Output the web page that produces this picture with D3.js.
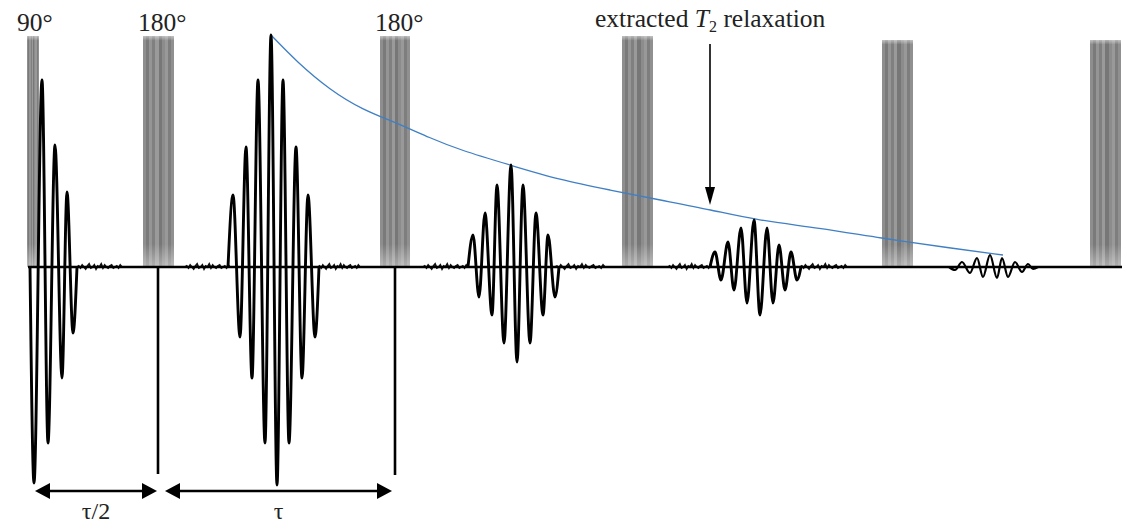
<!DOCTYPE html>
<html><head><meta charset="utf-8">
<script src="https://cdn.jsdelivr.net/npm/d3@7"></script>
<style>html,body{margin:0;padding:0;background:#fff;}svg{display:block;}</style>
</head><body>
<svg id="chart" width="1135" height="523"></svg>
<script>
// ---- data (time units ~ horizontal position, amplitude units ~ signal) ----
const pulseStart = [27, 143, 380, 622, 882, 1090];
const pulseEnd   = [39, 174, 410, 653, 913, 1121];
const pulseTop   = [231, 231, 231, 231, 227, 227];   // pulse height (amplitude units)
const pulseLabels = [{t:17, text:"90°"}, {t:138, text:"180°"}, {t:375, text:"180°"}];

const fid = [[30,0],[34,-216],[42,187],[48,-176],[55,122],[62,-111],[67,75],[73,-66],[77,0]];
const echo1 = [[228,0],[233,72],[240,-70],[246,120],[252,-111],[258,187],[265,-176],[271,232],[277,-218],
               [283,187],[289,-176],[296,120],[302,-111],[308,72],[315,-70],[319,0]];
const echo2 = [[468,0],[473,32],[479,-30],[485,54],[492,-48],[497,82],[504,-76],[511,102],[517,-95],
               [523,82],[530,-76],[536,54],[543,-48],[548,32],[555,-30],[559,0]];
const echo3 = [[710,0],[715,15],[721,-13],[728,25],[734,-23],[741,39],[747,-36],[754,47],[760,-48],
               [767,39],[773,-36],[779,22],[785,-23],[791,15],[797,-13],[801,0]];
const echo4 = [[949,0],[955,-3],[962,5],[970,-6],[977,9],[983,-10],[990,12],[997,-11],[1002,9],
               [1008,-10],[1015,5],[1022,-5],[1028,3],[1033,-2],[1038,0]];
const noiseSegments = [[77,122],[185,230],[318,360],[423,468],[555,605],[668,712],[800,847]];
const noiseShape = [0,1,-1,2,0,-2,1,3,-1,0,2,-2,1,0,3,-1,2,0,-1,1,2,-1,0,1,-1,2,0];
const refocus = [{t:158, a:-207}, {t:395, a:-208}];
const t2Curve = [[271,232],[297,205],[330,177],[363,157],[397,144],[430,129],[460,117],[510,102],
                 [560,87],[610,77],[660,67],[712,57],[755,47],[820,39],[880,29],[950,19],[1003,12]];
const intervals = [{t0:35, t1:157, label:"τ/2"}, {t0:165, t1:392, label:"τ"}];
const baseExtent = [28, 1122];
const annotation = {t:710, a0:223, a1:62};

// ---- scales ----
const svg = d3.select("#chart");
const x = d3.scaleLinear().domain([0,1135]).range([0,1135]);
const y = d3.scaleLinear().domain([-240,240]).range([267+240, 267-240]);

// defs: striped gray pulse gradient and fades
const defs = svg.append("defs");
const stripes = ["#8e8e8e","#7a7a7a","#959595","#808080","#9a9a9a","#777777","#8c8c8c","#999999","#7e7e7e","#909090"];
const g1 = defs.append("linearGradient").attr("id","stripe").attr("x1","0").attr("x2","1").attr("y1","0").attr("y2","0");
stripes.forEach((c,i)=>{
  g1.append("stop").attr("offset", i/stripes.length).attr("stop-color", c);
  g1.append("stop").attr("offset", (i+1)/stripes.length).attr("stop-color", c);
});
const g2 = defs.append("linearGradient").attr("id","fade").attr("x1","0").attr("x2","0").attr("y1","0").attr("y2","1");
g2.append("stop").attr("offset",0).attr("stop-color","#fff").attr("stop-opacity",0.45);
g2.append("stop").attr("offset",0.02).attr("stop-color","#fff").attr("stop-opacity",0);
g2.append("stop").attr("offset",0.9).attr("stop-color","#fff").attr("stop-opacity",0);
g2.append("stop").attr("offset",1).attr("stop-color","#fff").attr("stop-opacity",0.4);

// pulses
const pulses = pulseStart.map((s,i)=>({s, e:pulseEnd[i], h:pulseTop[i]}));
svg.append("g").selectAll("rect").data(pulses).join("rect")
  .attr("x", d=>x(d.s)).attr("width", d=>x(d.e)-x(d.s))
  .attr("y", d=>y(d.h)).attr("height", d=>y(0)-y(d.h))
  .attr("fill","url(#stripe)");
svg.append("g").selectAll("rect").data(pulses).join("rect")
  .attr("x", d=>x(d.s)).attr("width", d=>x(d.e)-x(d.s))
  .attr("y", d=>y(d.h)).attr("height", d=>y(0)-y(d.h))
  .attr("fill","url(#fade)");

// labels
svg.append("g").selectAll("text").data(pulseLabels).join("text")
  .attr("x", d=>x(d.t)).attr("y", 31)
  .attr("font-family","Liberation Serif, Times New Roman, serif").attr("font-size", 25.5)
  .attr("fill","#222").text(d=>d.text);

// T2 curve
svg.append("path").datum(t2Curve)
  .attr("d", d3.line().x(d=>x(d[0])).y(d=>y(d[1])).curve(d3.curveBasis))
  .attr("fill","none").attr("stroke","#3f7fc4").attr("stroke-width",1.3);

// noise
const noiseLine = d3.line().x(d=>x(d[0])).y(d=>y(d[1]));
noiseSegments.forEach(([a,b])=>{
  const pts = noiseShape.map((v,i)=>[a+(b-a)*i/(noiseShape.length-1), v]);
  svg.append("path").datum(pts).attr("d", noiseLine)
    .attr("fill","none").attr("stroke","#111").attr("stroke-width",1.8);
});

// baseline
svg.append("line").attr("x1",x(baseExtent[0])).attr("x2",x(baseExtent[1]))
  .attr("y1",y(0)).attr("y2",y(0)).attr("stroke","#000").attr("stroke-width",2.6);

// signals
const sigLine = d3.line().x(d=>x(d[0])).y(d=>y(d[1])).curve(d3.curveMonotoneX);
[fid, echo1, echo2, echo3, echo4].forEach((s,i)=>{
  svg.append("path").datum(s).attr("d", sigLine)
    .attr("fill","none").attr("stroke","#000").attr("stroke-width", i===4?2.2:2.9)
    .attr("stroke-linejoin","round");
});

// refocusing markers
svg.append("g").selectAll("line").data(refocus).join("line")
  .attr("x1",d=>x(d.t)).attr("x2",d=>x(d.t)).attr("y1",y(0)).attr("y2",d=>y(d.a))
  .attr("stroke","#000").attr("stroke-width",2.6);

// interval arrows
const ay = 491;
intervals.forEach(d=>{
  const xa = x(d.t0), xb = x(d.t1);
  svg.append("line").attr("x1",xa+10).attr("x2",xb-10).attr("y1",ay).attr("y2",ay)
    .attr("stroke","#000").attr("stroke-width",2.4);
  svg.append("path").attr("d",`M${xa},${ay}L${xa+15},${ay-8}L${xa+15},${ay+8}Z`).attr("fill","#000");
  svg.append("path").attr("d",`M${xb},${ay}L${xb-15},${ay-8}L${xb-15},${ay+8}Z`).attr("fill","#000");
  svg.append("text").attr("x",(xa+xb)/2).attr("y",519).attr("text-anchor","middle")
    .attr("font-family","Liberation Serif, Times New Roman, serif").attr("font-size",24)
    .attr("fill","#222").text(d.label);
});

// annotation
const ax = x(annotation.t);
svg.append("line").attr("x1",ax).attr("x2",ax).attr("y1",y(annotation.a0)).attr("y2",y(annotation.a1)-14)
  .attr("stroke","#000").attr("stroke-width",1.6);
svg.append("path").attr("d",`M${ax},${y(annotation.a1)}L${ax-5},${y(annotation.a1)-18}L${ax+5},${y(annotation.a1)-18}Z`).attr("fill","#000");
const at = svg.append("text").attr("x",595).attr("y",27)
  .attr("font-family","Liberation Serif, Times New Roman, serif").attr("font-size",25.5).attr("fill","#222");
at.append("tspan").text("extracted ");
at.append("tspan").attr("font-style","italic").text("T");
at.append("tspan").attr("font-size",16).attr("dy",5).text("2");
at.append("tspan").attr("dy",-5).text(" relaxation");
</script>
</body></html>
